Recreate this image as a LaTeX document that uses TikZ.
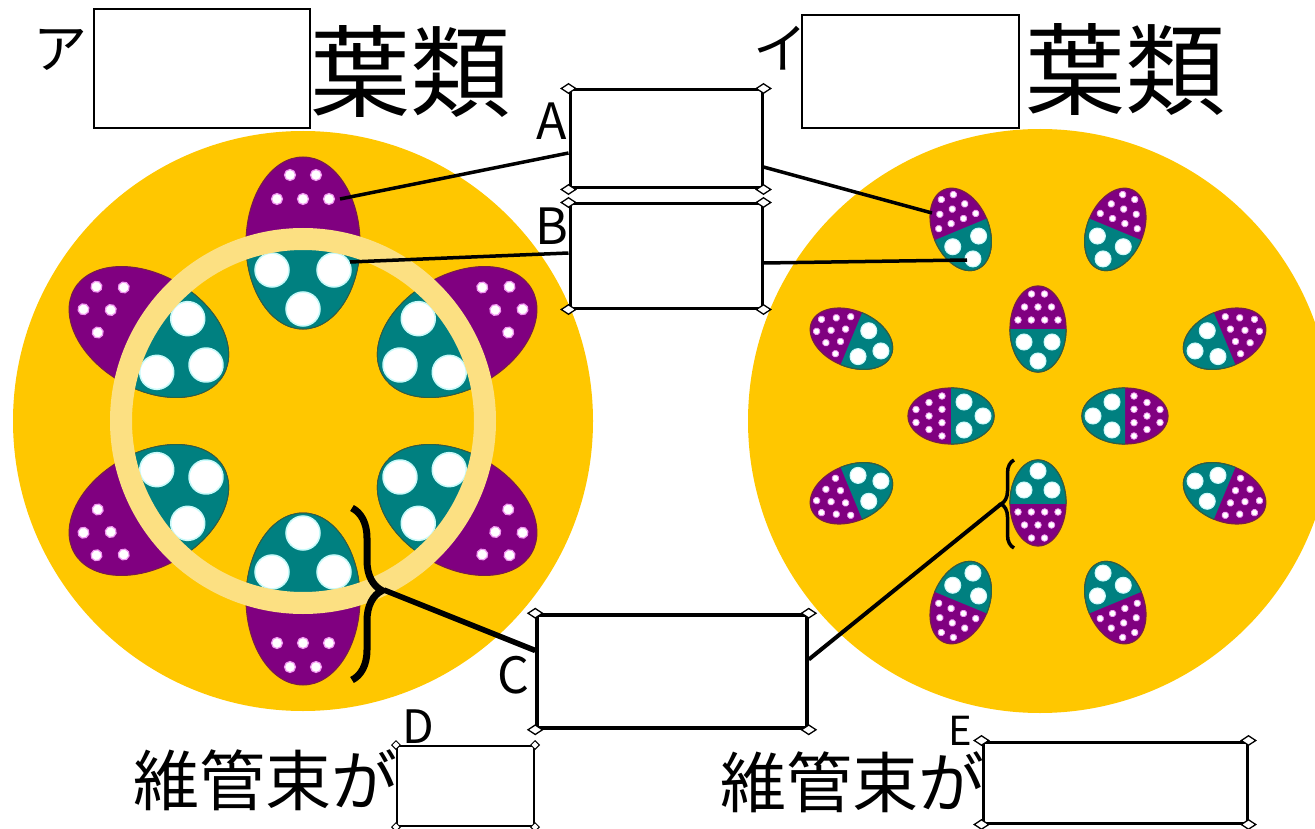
\documentclass[tikz,border=0pt]{standalone}
\usepackage{fontspec}
\setmainfont{Noto Sans CJK JP}
\usetikzlibrary{shapes.geometric, decorations.pathreplacing}

\definecolor{stem}{RGB}{255,199,0}
\definecolor{cambium}{RGB}{252,224,130}
\definecolor{phloem}{RGB}{128,0,128}
\definecolor{xylem}{RGB}{0,128,128}
\definecolor{sieverim}{RGB}{240,150,240}
\definecolor{vesselrim}{RGB}{200,250,250}
\definecolor{phloemrim}{RGB}{120,30,70}
\definecolor{xylemrim}{RGB}{40,100,70}

\tikzset{
    ansbox/.style={draw, line width=3pt, fill=white, inner sep=0pt},
    grip/.style={diamond, draw, fill=white, line width=1.3pt, inner sep=0pt,
                 minimum width=15pt, minimum height=10pt},
    lead/.style={line width=3.5pt},
    sieve/.style={fill=white, draw=sieverim, line width=1.2pt},
    vessel/.style={fill=white, draw=vesselrim, line width=1.5pt},
    title/.style={font=\fontsize{100}{100}\selectfont, inner sep=0pt},
    kana/.style={font=\fontsize{54}{54}\selectfont, inner sep=0pt},
    tag/.style={font=\fontsize{50}{50}\selectfont, inner sep=0pt},
    caption/.style={font=\fontsize{66}{66}\selectfont, inner sep=0pt},
}

% bundle on the ring, #1 = angle
\newcommand{\dicotbundle}[1]{%
    \begin{scope}[shift={(303,421)}, rotate=#1, shift={(178,0)}]
        \fill[phloem] (0,0) ellipse [x radius=86, y radius=57];
        \draw[phloemrim, line width=1pt] (0,0) ellipse [x radius=86, y radius=57];
        \begin{scope}
            \clip (-178,0) circle [radius=182];
            \fill[xylem] (0,0) ellipse [x radius=86, y radius=57];
            \draw[xylemrim, line width=1pt] (0,0) ellipse [x radius=86, y radius=57];
        \end{scope}
        \foreach \u/\v in {68/-13, 68/13, 44/-26, 44/0, 44/26}
            {\draw[sieve] (\u,\v) circle [radius=5.5];}
        \foreach \u/\v in {-27/-31, -27/31, -66/0}
            {\draw[vessel] (\u,\v) circle [radius=17];}
    \end{scope}%
}

% scattered bundle, #1 = angle, #2 = distance from the centre
\newcommand{\monocotbundle}[2]{%
    \begin{scope}[shift={(1038,416)}, rotate=#1, shift={(#2,0)}]
        \fill[phloem] (0,0) ellipse [x radius=43, y radius=28];
        \draw[phloemrim, line width=1.2pt] (0,0) ellipse [x radius=43, y radius=28];
        \begin{scope}
            \clip (-50,-35) rectangle (0,35);
            \fill[xylem] (0,0) ellipse [x radius=43, y radius=28];
            \draw[xylemrim, line width=1.2pt] (0,0) ellipse [x radius=43, y radius=28];
        \end{scope}
        \foreach \u/\v in {35/-6.5, 35/6.5, 22/-13.5, 22/0, 22/13.5,
                           9/-20, 9/-6.7, 9/6.7, 9/20}
            {\draw[sieve, line width=0.8pt] (\u,\v) circle [radius=3.3];}
        \foreach \u/\v in {-13/-14, -13/14, -32/0}
            {\draw[vessel, line width=1pt] (\u,\v) circle [radius=8];}
    \end{scope}%
}

\begin{document}
\begin{tikzpicture}[x=1pt, y=-1pt]

    \useasboundingbox[fill=white] (0,0) rectangle (1315,829);

    % stems
    \fill[stem] (303,421) circle [radius=290];
    \fill[stem] (1040,421) circle [radius=292];

    \foreach \a in {90, 30, -30, -90, -150, 150}
        {\dicotbundle{\a}}
    \draw[cambium, line width=22pt] (303,421) circle [radius=182];

    \foreach \a in {0, 90, 180, 270}
        {\monocotbundle{\a}{87}}
    \foreach \a in {22.5, 67.5, 112.5, 157.5, 202.5, 247.5, 292.5, 337.5}
        {\monocotbundle{\a}{202}}

    % titles
    \node[kana]                                           (kanaA)  at (61,50)    {ア};
    \node[ansbox, line width=2.5pt, minimum width=216, minimum height=119] (boxT1) at (202,68.5) {};
    \node[title]                                          (leafA)  at (410,72)   {葉類};
    \node[kana]                                           (kanaI)  at (780,48)   {イ};
    \node[ansbox, line width=2.5pt, minimum width=217, minimum height=113] (boxT2) at (910.5,71.5) {};
    \node[title]                                          (leafI)  at (1125,70)  {葉類};

    % answer boxes
    \node[ansbox, minimum width=192, minimum height=98]   (boxA) at (666,139)   {};
    \node[ansbox, minimum width=192, minimum height=104]  (boxB) at (666,256)   {};
    \node[ansbox, line width=3.5pt, minimum width=270, minimum height=113] (boxC) at (672,671.5) {};
    \node[ansbox, line width=2pt, minimum width=137, minimum height=80]    (boxD) at (465.5,786) {};
    \node[ansbox, minimum width=264, minimum height=81]   (boxE) at (1115,782.5) {};

    \foreach \b in {boxA, boxB, boxC, boxE}
        \foreach \c in {north west, north east, south west, south east}
            {\node[grip] at (\b.\c) {};}
    \foreach \c in {north west, north east, south west, south east}
        {\node[grip, line width=1pt, minimum width=9pt, minimum height=9pt] at (boxD.\c) {};}

    \node[tag]                      (tagA) at (552,121) {A};
    \node[tag]                      (tagB) at (552,226) {B};
    \node[tag]                      (tagC) at (513,675) {C};
    \node[tag, font=\fontsize{46}{46}\selectfont] (tagD) at (418,727) {D};
    \node[tag, font=\fontsize{40}{40}\selectfont] (tagE) at (960,731) {E};

    \node[caption] (capD) at (265,780) {維管束が};
    \node[caption] (capE) at (852,782) {維管束が};

    \foreach \y in {112, 306, 556}
        {\node[font=\fontsize{44}{44}\selectfont, anchor=west, inner sep=0pt] at (1311,\y) {(};}

    % braces round one bundle
    \draw[line width=7pt, decorate, decoration={brace, amplitude=30pt, aspect=0.48}]
        (352,508) -- (352,680);
    \draw[line width=3.5pt, decorate, decoration={brace, amplitude=13pt, aspect=0.5}]
        (1014,548) -- (1014,460);
    \coordinate (tipL) at (384,590);
    \coordinate (tipR) at (1001,504);

    % leader ends
    \coordinate (sieveL)  at (340,199);
    \coordinate (sieveR)  at (932,213);
    \coordinate (vesselL) at (350,262);
    \coordinate (vesselR) at (967,260);

    \draw[lead] ([yshift=-14pt]boxA.west) -- (sieveL);
    \draw[lead] ([yshift=-28pt]boxA.east) -- (sieveR);
    \draw[lead] ([yshift=3pt]boxB.west)   -- (vesselL);
    \draw[lead] ([yshift=-7pt]boxB.east)  -- (vesselR);
    \draw[lead, line width=5.5pt] (tipL) -- ([yshift=21pt]boxC.west);
    \draw[lead, line width=4pt] (tipR) -- ([yshift=12pt]boxC.east);

\end{tikzpicture}
\end{document}
